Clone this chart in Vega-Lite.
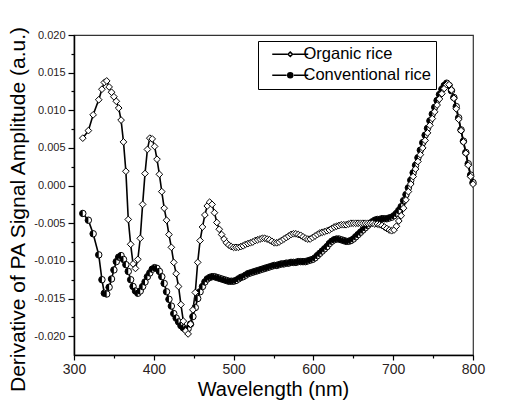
{
  "$schema": "https://vega.github.io/schema/vega-lite/v6.json",
  "width": 399,
  "height": 320,
  "autosize": "none",
  "padding": {"left": 74, "top": 35, "right": 46, "bottom": 49},
  "background": "white",
  "config": {
    "view": {"stroke": "#333", "strokeWidth": 1.2},
    "font": "Liberation Sans",
    "axis": {"domainColor": "black", "domainWidth": 1.5, "tickColor": "black", "tickWidth": 1.2, "grid": false, "labelFont": "Liberation Sans", "titleFont": "Liberation Sans", "titleFontWeight": "normal", "labelColor": "#2a2222", "titleColor": "black"}
  },
  "datasets": {
    "pa": [
      {"w":311,"s":"O","v":0.0063},{"w":318,"s":"O","v":0.0073},{"w":324,"s":"O","v":0.0094},{"w":331,"s":"O","v":0.0114},{"w":335,"s":"O","v":0.0128},{"w":338,"s":"O","v":0.0137},{"w":341,"s":"O","v":0.0139},{"w":344,"s":"O","v":0.0131},{"w":347,"s":"O","v":0.0124},{"w":350,"s":"O","v":0.0118},{"w":353,"s":"O","v":0.0112},{"w":356,"s":"O","v":0.0103},{"w":359,"s":"O","v":0.0087},{"w":362,"s":"O","v":0.0058},{"w":365,"s":"O","v":0.0019},{"w":368,"s":"O","v":-0.0045},{"w":371,"s":"O","v":-0.0078},{"w":374,"s":"O","v":-0.0104},{"w":377,"s":"O","v":-0.011},{"w":380,"s":"O","v":-0.0098},{"w":383,"s":"O","v":-0.007},{"w":386,"s":"O","v":-0.0025},{"w":389,"s":"O","v":0.0016},{"w":392,"s":"O","v":0.0048},{"w":395,"s":"O","v":0.0063},{"w":398,"s":"O","v":0.0062},{"w":401,"s":"O","v":0.0052},{"w":404,"s":"O","v":0.0035},{"w":407,"s":"O","v":0.0015},{"w":410,"s":"O","v":-0.0008},{"w":413,"s":"O","v":-0.003},{"w":416,"s":"O","v":-0.0046},{"w":419,"s":"O","v":-0.0065},{"w":422,"s":"O","v":-0.0082},{"w":425,"s":"O","v":-0.0102},{"w":428,"s":"O","v":-0.0117},{"w":431,"s":"O","v":-0.0134},{"w":434,"s":"O","v":-0.0158},{"w":437,"s":"O","v":-0.018},{"w":440,"s":"O","v":-0.0193},{"w":443,"s":"O","v":-0.0197},{"w":446,"s":"O","v":-0.0184},{"w":449,"s":"O","v":-0.0165},{"w":452,"s":"O","v":-0.0142},{"w":455,"s":"O","v":-0.0102},{"w":458,"s":"O","v":-0.0073},{"w":461,"s":"O","v":-0.0055},{"w":464,"s":"O","v":-0.0039},{"w":467,"s":"O","v":-0.0027},{"w":470,"s":"O","v":-0.0022},{"w":473,"s":"O","v":-0.0025},{"w":476,"s":"O","v":-0.0036},{"w":479,"s":"O","v":-0.0049},{"w":482,"s":"O","v":-0.0058},{"w":485,"s":"O","v":-0.0065},{"w":488,"s":"O","v":-0.0071},{"w":491,"s":"O","v":-0.0076},{"w":494,"s":"O","v":-0.0079},{"w":497,"s":"O","v":-0.0081},{"w":500,"s":"O","v":-0.0082},{"w":503,"s":"O","v":-0.0082},{"w":506,"s":"O","v":-0.0082},{"w":509,"s":"O","v":-0.0081},{"w":512,"s":"O","v":-0.008},{"w":515,"s":"O","v":-0.0078},{"w":518,"s":"O","v":-0.0077},{"w":521,"s":"O","v":-0.0076},{"w":524,"s":"O","v":-0.0075},{"w":527,"s":"O","v":-0.0073},{"w":530,"s":"O","v":-0.0072},{"w":533,"s":"O","v":-0.0071},{"w":536,"s":"O","v":-0.007},{"w":539,"s":"O","v":-0.007},{"w":542,"s":"O","v":-0.0071},{"w":545,"s":"O","v":-0.0072},{"w":548,"s":"O","v":-0.0074},{"w":551,"s":"O","v":-0.0076},{"w":554,"s":"O","v":-0.0076},{"w":557,"s":"O","v":-0.0075},{"w":560,"s":"O","v":-0.0073},{"w":563,"s":"O","v":-0.0071},{"w":566,"s":"O","v":-0.0069},{"w":569,"s":"O","v":-0.0067},{"w":572,"s":"O","v":-0.0065},{"w":575,"s":"O","v":-0.0064},{"w":578,"s":"O","v":-0.0064},{"w":581,"s":"O","v":-0.0065},{"w":584,"s":"O","v":-0.0066},{"w":587,"s":"O","v":-0.0068},{"w":590,"s":"O","v":-0.007},{"w":593,"s":"O","v":-0.0071},{"w":596,"s":"O","v":-0.0071},{"w":599,"s":"O","v":-0.0069},{"w":602,"s":"O","v":-0.0067},{"w":605,"s":"O","v":-0.0065},{"w":608,"s":"O","v":-0.0063},{"w":611,"s":"O","v":-0.0062},{"w":614,"s":"O","v":-0.0061},{"w":617,"s":"O","v":-0.006},{"w":620,"s":"O","v":-0.0059},{"w":623,"s":"O","v":-0.0057},{"w":626,"s":"O","v":-0.0055},{"w":629,"s":"O","v":-0.0054},{"w":632,"s":"O","v":-0.0053},{"w":635,"s":"O","v":-0.0052},{"w":638,"s":"O","v":-0.0052},{"w":641,"s":"O","v":-0.0052},{"w":644,"s":"O","v":-0.0051},{"w":647,"s":"O","v":-0.005},{"w":650,"s":"O","v":-0.005},{"w":653,"s":"O","v":-0.005},{"w":656,"s":"O","v":-0.005},{"w":659,"s":"O","v":-0.005},{"w":662,"s":"O","v":-0.005},{"w":665,"s":"O","v":-0.005},{"w":668,"s":"O","v":-0.005},{"w":671,"s":"O","v":-0.005},{"w":674,"s":"O","v":-0.005},{"w":677,"s":"O","v":-0.0051},{"w":680,"s":"O","v":-0.0051},{"w":683,"s":"O","v":-0.0052},{"w":686,"s":"O","v":-0.0053},{"w":689,"s":"O","v":-0.0055},{"w":692,"s":"O","v":-0.0057},{"w":695,"s":"O","v":-0.0059},{"w":698,"s":"O","v":-0.006},{"w":701,"s":"O","v":-0.0059},{"w":704,"s":"O","v":-0.0054},{"w":707,"s":"O","v":-0.0047},{"w":710,"s":"O","v":-0.004},{"w":713,"s":"O","v":-0.003},{"w":716,"s":"O","v":-0.0019},{"w":719,"s":"O","v":-0.0008},{"w":722,"s":"O","v":0.0002},{"w":725,"s":"O","v":0.0012},{"w":728,"s":"O","v":0.0022},{"w":731,"s":"O","v":0.0032},{"w":734,"s":"O","v":0.0041},{"w":737,"s":"O","v":0.005},{"w":740,"s":"O","v":0.006},{"w":743,"s":"O","v":0.007},{"w":746,"s":"O","v":0.008},{"w":749,"s":"O","v":0.0089},{"w":752,"s":"O","v":0.0098},{"w":755,"s":"O","v":0.0107},{"w":758,"s":"O","v":0.0115},{"w":761,"s":"O","v":0.0122},{"w":764,"s":"O","v":0.0129},{"w":767,"s":"O","v":0.0134},{"w":770,"s":"O","v":0.0134},{"w":773,"s":"O","v":0.0127},{"w":776,"s":"O","v":0.0116},{"w":779,"s":"O","v":0.0102},{"w":782,"s":"O","v":0.0088},{"w":785,"s":"O","v":0.0073},{"w":788,"s":"O","v":0.0058},{"w":791,"s":"O","v":0.0043},{"w":794,"s":"O","v":0.0027},{"w":797,"s":"O","v":0.0012},{"w":800,"s":"O","v":0.0002},
      {"w":311,"s":"C","v":-0.0037},{"w":318,"s":"C","v":-0.0046},{"w":324,"s":"C","v":-0.0064},{"w":331,"s":"C","v":-0.0092},{"w":335,"s":"C","v":-0.0125},{"w":338,"s":"C","v":-0.0143},{"w":341,"s":"C","v":-0.0144},{"w":344,"s":"C","v":-0.0135},{"w":347,"s":"C","v":-0.0124},{"w":350,"s":"C","v":-0.0112},{"w":353,"s":"C","v":-0.0101},{"w":356,"s":"C","v":-0.0095},{"w":359,"s":"C","v":-0.0093},{"w":362,"s":"C","v":-0.0098},{"w":365,"s":"C","v":-0.0105},{"w":368,"s":"C","v":-0.0114},{"w":371,"s":"C","v":-0.0125},{"w":374,"s":"C","v":-0.0134},{"w":377,"s":"C","v":-0.014},{"w":380,"s":"C","v":-0.0143},{"w":383,"s":"C","v":-0.014},{"w":386,"s":"C","v":-0.0134},{"w":389,"s":"C","v":-0.0128},{"w":392,"s":"C","v":-0.0121},{"w":395,"s":"C","v":-0.0116},{"w":398,"s":"C","v":-0.0111},{"w":401,"s":"C","v":-0.0109},{"w":404,"s":"C","v":-0.011},{"w":407,"s":"C","v":-0.0114},{"w":410,"s":"C","v":-0.0121},{"w":413,"s":"C","v":-0.013},{"w":416,"s":"C","v":-0.0141},{"w":419,"s":"C","v":-0.0151},{"w":422,"s":"C","v":-0.016},{"w":425,"s":"C","v":-0.017},{"w":428,"s":"C","v":-0.0176},{"w":431,"s":"C","v":-0.0181},{"w":434,"s":"C","v":-0.0186},{"w":437,"s":"C","v":-0.0189},{"w":440,"s":"C","v":-0.0191},{"w":443,"s":"C","v":-0.019},{"w":446,"s":"C","v":-0.0184},{"w":449,"s":"C","v":-0.0174},{"w":452,"s":"C","v":-0.0162},{"w":455,"s":"C","v":-0.015},{"w":458,"s":"C","v":-0.0141},{"w":461,"s":"C","v":-0.0134},{"w":464,"s":"C","v":-0.0128},{"w":467,"s":"C","v":-0.0124},{"w":470,"s":"C","v":-0.0122},{"w":473,"s":"C","v":-0.0121},{"w":476,"s":"C","v":-0.0121},{"w":479,"s":"C","v":-0.0122},{"w":482,"s":"C","v":-0.0123},{"w":485,"s":"C","v":-0.0124},{"w":488,"s":"C","v":-0.0125},{"w":491,"s":"C","v":-0.0126},{"w":494,"s":"C","v":-0.0127},{"w":497,"s":"C","v":-0.0127},{"w":500,"s":"C","v":-0.0127},{"w":503,"s":"C","v":-0.0126},{"w":506,"s":"C","v":-0.0124},{"w":509,"s":"C","v":-0.0122},{"w":512,"s":"C","v":-0.0121},{"w":515,"s":"C","v":-0.0119},{"w":518,"s":"C","v":-0.0117},{"w":521,"s":"C","v":-0.0116},{"w":524,"s":"C","v":-0.0115},{"w":527,"s":"C","v":-0.0114},{"w":530,"s":"C","v":-0.0113},{"w":533,"s":"C","v":-0.0112},{"w":536,"s":"C","v":-0.0111},{"w":539,"s":"C","v":-0.011},{"w":542,"s":"C","v":-0.0109},{"w":545,"s":"C","v":-0.0108},{"w":548,"s":"C","v":-0.0107},{"w":551,"s":"C","v":-0.0106},{"w":554,"s":"C","v":-0.0106},{"w":557,"s":"C","v":-0.0105},{"w":560,"s":"C","v":-0.0104},{"w":563,"s":"C","v":-0.0104},{"w":566,"s":"C","v":-0.0103},{"w":569,"s":"C","v":-0.0103},{"w":572,"s":"C","v":-0.0102},{"w":575,"s":"C","v":-0.0102},{"w":578,"s":"C","v":-0.0102},{"w":581,"s":"C","v":-0.0101},{"w":584,"s":"C","v":-0.0101},{"w":587,"s":"C","v":-0.0101},{"w":590,"s":"C","v":-0.0101},{"w":593,"s":"C","v":-0.01},{"w":596,"s":"C","v":-0.0099},{"w":599,"s":"C","v":-0.0098},{"w":602,"s":"C","v":-0.0096},{"w":605,"s":"C","v":-0.0093},{"w":608,"s":"C","v":-0.009},{"w":611,"s":"C","v":-0.0087},{"w":614,"s":"C","v":-0.0084},{"w":617,"s":"C","v":-0.0081},{"w":620,"s":"C","v":-0.0077},{"w":623,"s":"C","v":-0.0074},{"w":626,"s":"C","v":-0.0072},{"w":629,"s":"C","v":-0.0071},{"w":632,"s":"C","v":-0.0071},{"w":635,"s":"C","v":-0.0072},{"w":638,"s":"C","v":-0.0073},{"w":641,"s":"C","v":-0.0074},{"w":644,"s":"C","v":-0.0074},{"w":647,"s":"C","v":-0.0073},{"w":650,"s":"C","v":-0.0071},{"w":653,"s":"C","v":-0.0068},{"w":656,"s":"C","v":-0.0065},{"w":659,"s":"C","v":-0.0062},{"w":662,"s":"C","v":-0.0059},{"w":665,"s":"C","v":-0.0056},{"w":668,"s":"C","v":-0.0053},{"w":671,"s":"C","v":-0.005},{"w":674,"s":"C","v":-0.0048},{"w":677,"s":"C","v":-0.0046},{"w":680,"s":"C","v":-0.0045},{"w":683,"s":"C","v":-0.0045},{"w":686,"s":"C","v":-0.0044},{"w":689,"s":"C","v":-0.0044},{"w":692,"s":"C","v":-0.0044},{"w":695,"s":"C","v":-0.0043},{"w":698,"s":"C","v":-0.0042},{"w":701,"s":"C","v":-0.004},{"w":704,"s":"C","v":-0.0037},{"w":707,"s":"C","v":-0.0033},{"w":710,"s":"C","v":-0.0028},{"w":713,"s":"C","v":-0.002},{"w":716,"s":"C","v":-0.0012},{"w":719,"s":"C","v":-0.0003},{"w":722,"s":"C","v":0.0007},{"w":725,"s":"C","v":0.0017},{"w":728,"s":"C","v":0.0027},{"w":731,"s":"C","v":0.0037},{"w":734,"s":"C","v":0.0047},{"w":737,"s":"C","v":0.0057},{"w":740,"s":"C","v":0.0067},{"w":743,"s":"C","v":0.0076},{"w":746,"s":"C","v":0.0086},{"w":749,"s":"C","v":0.0095},{"w":752,"s":"C","v":0.0104},{"w":755,"s":"C","v":0.0113},{"w":758,"s":"C","v":0.0121},{"w":761,"s":"C","v":0.0128},{"w":764,"s":"C","v":0.0133},{"w":767,"s":"C","v":0.0136},{"w":770,"s":"C","v":0.0133},{"w":773,"s":"C","v":0.0126},{"w":776,"s":"C","v":0.0117},{"w":779,"s":"C","v":0.0105},{"w":782,"s":"C","v":0.009},{"w":785,"s":"C","v":0.0074},{"w":788,"s":"C","v":0.0059},{"w":791,"s":"C","v":0.0044},{"w":794,"s":"C","v":0.0029},{"w":797,"s":"C","v":0.0014},{"w":800,"s":"C","v":0.0004}
    ]
  },
  "data": {"name": "pa"},
  "encoding": {
    "x": {
      "field": "w", "type": "quantitative",
      "scale": {"domain": [300, 800], "nice": false, "zero": false},
      "axis": {
        "title": "Wavelength (nm)",
        "values": [300, 350, 400, 450, 500, 550, 600, 650, 700, 750, 800],
        "labelExpr": "datum.value % 100 === 0 ? datum.label : ''",
        "tickSize": {"condition": {"test": "datum.value % 100 === 0", "value": 5}, "value": 3},
        "labelFontSize": 14, "labelPadding": 2, "labelFlush": false,
        "titleFontSize": 20, "titleX": 199, "titleY": 40, "titleBaseline": "alphabetic", "titleAnchor": "middle"
      }
    },
    "y": {
      "field": "v", "type": "quantitative",
      "scale": {"domain": [-0.0225, 0.02], "nice": false, "zero": false},
      "axis": {
        "title": "Derivative of PA Signal Amplitude (a.u.)",
        "values": [-0.02, -0.0175, -0.015, -0.0125, -0.01, -0.0075, -0.005, -0.0025, 0, 0.0025, 0.005, 0.0075, 0.01, 0.0125, 0.015, 0.0175, 0.02],
        "labelExpr": "abs(datum.value*200 - round(datum.value*200)) < 0.001 ? replace(format(datum.value, '.3f'), '\u2212', '-') : ''",
        "tickSize": {"condition": {"test": "abs(datum.value*200 - round(datum.value*200)) < 0.001", "value": 6}, "value": 3},
        "labelFontSize": 11, "labelPadding": 3, "labelFlush": false,
        "titleFontSize": 21, "titleX": -56, "titleY": 174, "titleAngle": -90, "titleAlign": "center", "titleBaseline": "middle"
      }
    }
  },
  "layer": [
    {
      "mark": {"type": "line", "color": "black", "strokeWidth": 1.6},
      "encoding": {"detail": {"field": "s", "type": "nominal"}}
    },
    {
      "transform": [{"filter": "datum.s === 'C'"}],
      "mark": {"type": "point", "shape": "circle", "filled": true, "fill": "white", "stroke": "black", "strokeWidth": 1, "size": 42, "opacity": 1}
    },
    {
      "transform": [{"filter": "datum.s === 'C'"}],
      "mark": {"type": "point", "shape": "M0,-1A1,1,0,0,0,0,1Z", "filled": true, "fill": "black", "strokeWidth": 0, "size": 42, "opacity": 1}
    },
    {
      "transform": [{"filter": "datum.s === 'O'"}],
      "mark": {"type": "point", "shape": "diamond", "filled": true, "fill": "white", "stroke": "black", "strokeWidth": 1, "size": 45, "opacity": 1}
    },
    {
      "transform": [{"filter": "datum.w < 0"}],
      "mark": {"type": "point", "filled": true, "stroke": "black", "strokeWidth": 1.3, "size": 144, "opacity": 1},
      "encoding": {
        "shape": {
          "field": "s", "type": "nominal",
          "scale": {"domain": ["O", "C"], "range": ["M-3,0H-0.5M0.5,0H3M0,-0.38L0.38,0L0,0.38L-0.38,0Z", "M-3,0H-0.6M0.6,0H3M-0.42,0A0.42,0.42,0,1,0,0.42,0A0.42,0.42,0,1,0,-0.42,0Z"]},
          "legend": {
            "title": null, "orient": "none", "legendX": 184, "legendY": 6,
            "labelExpr": "datum.value === 'O' ? 'Organic rice' : 'Conventional rice'",
            "labelFontSize": 16.5, "labelFont": "Liberation Sans", "labelColor": "black",
            "strokeColor": "black", "fillColor": "white", "padding": 5,
            "symbolSize": 144, "symbolOffset": 19,
            "labelOffset": 5, "rowPadding": 4,
            "encode": {"symbols": {"update": {"stroke": {"value": "black"}, "strokeWidth": {"value": 1.3}, "opacity": {"value": 1}}}}
          }
        },
        "fill": {
          "field": "s", "type": "nominal",
          "scale": {"domain": ["O", "C"], "range": ["white", "black"]},
          "legend": null
        }
      }
    }
  ]
}
